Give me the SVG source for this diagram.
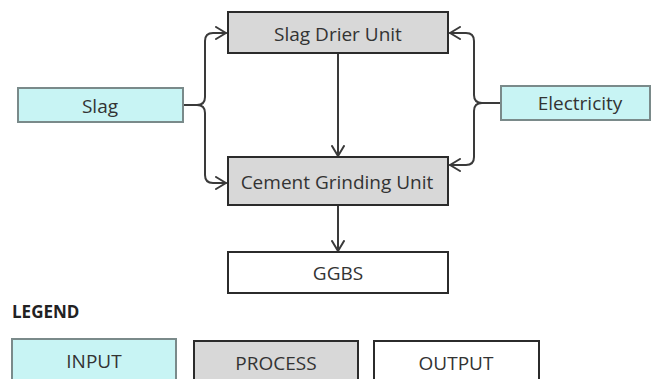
<svg xmlns="http://www.w3.org/2000/svg" width="652" height="379" viewBox="0 0 652 379">
  <defs>
    <style>
      text { font-family: "Open Sans", "Noto Sans", "DejaVu Sans", sans-serif; fill: #333; }
      .lbl { font-size: 19px; text-anchor: middle; }
      .input rect { fill: #c8f4f4; stroke: #7a8a8a; stroke-width: 2; }
      .process rect { fill: #d8d8d8; stroke: #2b2b2b; stroke-width: 2; }
      .output rect { fill: #ffffff; stroke: #2b2b2b; stroke-width: 2; }
      .conn path { fill: none; stroke: #3a3a3a; stroke-width: 2; stroke-linejoin: round; stroke-linecap: round; }
      .legend-title { font-size: 17px; font-weight: bold; fill: #222; }
    </style>
    <marker id="arrow" viewBox="0 0 12 14" refX="11" refY="7" markerWidth="12" markerHeight="14" markerUnits="userSpaceOnUse" orient="auto">
      <path d="M1,1 L11,7 L1,13" fill="none" stroke="#3a3a3a" stroke-width="2" stroke-linecap="round" stroke-linejoin="round"/>
    </marker>
  </defs>

  <rect width="652" height="379" fill="#ffffff"/>

  <!-- Connectors -->
  <g class="conn" id="connectors">
    <!-- Slag brace -->
    <path d="M183,105 H197 Q205,105 205,97 V41 Q205,33 213,33 H226" marker-end="url(#arrow)"/>
    <path d="M197,105 Q205,105 205,113 V175 Q205,183 213,183 H226" marker-end="url(#arrow)"/>
    <!-- Electricity brace -->
    <path d="M501,103 H482 Q474,103 474,95 V41 Q474,33 466,33 H450" marker-end="url(#arrow)"/>
    <path d="M482,103 Q474,103 474,111 V157 Q474,165 466,165 H450" marker-end="url(#arrow)"/>
    <!-- Process flow -->
    <path d="M338,54 V156" marker-end="url(#arrow)"/>
    <path d="M338,206 V251" marker-end="url(#arrow)"/>
  </g>

  <!-- Nodes -->
  <g id="slag" class="input">
    <rect x="18" y="88" width="165" height="34"/>
    <text class="lbl" x="100" y="113">Slag</text>
  </g>
  <g id="electricity" class="input">
    <rect x="501" y="86" width="149" height="34"/>
    <text class="lbl" x="580" y="110">Electricity</text>
  </g>
  <g id="slag-drier" class="process">
    <rect x="228" y="12" width="220" height="41"/>
    <text class="lbl" x="338" y="41">Slag Drier Unit</text>
  </g>
  <g id="cement-grinding" class="process">
    <rect x="228" y="157" width="220" height="48"/>
    <text class="lbl" x="337" y="189">Cement Grinding Unit</text>
  </g>
  <g id="ggbs" class="output">
    <rect x="228" y="252" width="220" height="41"/>
    <text class="lbl" x="338" y="280">GGBS</text>
  </g>

  <!-- Legend -->
  <g id="legend">
    <text class="legend-title" x="12" y="318">LEGEND</text>
    <g id="legend-input" class="input">
      <rect x="12" y="339" width="164" height="44"/>
      <text class="lbl" x="94" y="368">INPUT</text>
    </g>
    <g id="legend-process" class="process">
      <rect x="194" y="341" width="164" height="44"/>
      <text class="lbl" x="276" y="370">PROCESS</text>
    </g>
    <g id="legend-output" class="output">
      <rect x="374" y="341" width="165" height="44"/>
      <text class="lbl" x="456" y="370">OUTPUT</text>
    </g>
  </g>
</svg>
